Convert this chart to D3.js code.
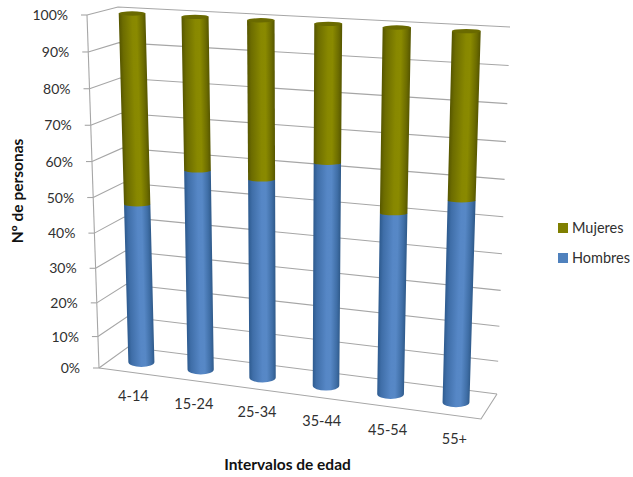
<!DOCTYPE html>
<html>
<head>
<meta charset="utf-8">
<script src="https://cdn.jsdelivr.net/npm/d3@7/dist/d3.min.js"></script>
<style>
html, body { margin: 0; padding: 0; background: #fff; }
svg { display: block; }
text { font-family: Lato, "Open Sans", sans-serif; fill: #303030; }
</style>
</head>
<body>
<svg id="chart" width="633" height="477"></svg>
<script>
// Age bands and the share of each sex per band (percent)
const categories = ["4-14", "15-24", "25-34", "35-44", "45-54", "55+"];
const hombres = [47, 58, 57, 63, 51, 56];
const mujeres = [53, 42, 43, 37, 49, 44];
const valueTicks = [0, 10, 20, 30, 40, 50, 60, 70, 80, 90, 100];
const legendItems = [["Mujeres", "#7f7f00"], ["Hombres", "#4f81bd"]];

const svg = d3.select("#chart");
const defs = svg.append("defs");

// Projected corners of the 3D plot box
const FL0 = [99, 368], FL1 = [87, 15];     // front-left edge, 0% and 100%
const BL0 = [128, 347], BL1 = [118, 7];    // back-left edge
const BR0 = [497, 394], BR1 = [510, 27];   // back-right edge
const FR0 = [481, 419];                    // front-right floor corner
// Plane halfway through the depth, on which the cylinder axes stand
const ML0 = [114.5, 358.5], MR0 = [489, 406.5], ML1 = [103.5, 12], MR1 = [501.4, 33];

// Perspective compresses the far end of each axis slightly
const sScale = d3.scalePow().exponent(1.05).domain([0, 100]).range([0, 1]);
const uScale = d3.scalePow().exponent(1.06).domain([0, categories.length]).range([0, 1]);
const mix = (a, b, t) => d3.interpolateNumberArray(a, b)(t);

function planePoint(u, s) {
  return mix(mix(ML0, MR0, u), mix(ML1, MR1, u), s);
}

// Cylinder width grows to the right and upward, towards the viewer
const widthBottom = d3.scaleLinear().domain([0, 1]).range([26, 27]);
const widthTop = d3.scaleLinear().domain([0, 1]).range([26.5, 29]);
const ryScale = d3.scaleLinear().domain([0, 0.5, 1]).range([5, 2, 2.2]);

function section(u, s) {
  const c = planePoint(u, s);
  const w = d3.interpolateNumber(widthBottom(u), widthTop(u))(s);
  return { cx: c[0], cy: c[1], rx: w / 2, ry: ryScale(s),
           l: [c[0] - w / 2, c[1]], r: [c[0] + w / 2, c[1]] };
}

// Gridlines and plot box
const grid = svg.append("g").attr("fill", "none").attr("stroke", "#a6a6a6").attr("stroke-width", 1.1);
valueTicks.forEach(v => {
  const s = sScale(v);
  const f = mix(FL0, FL1, s), bl = mix(BL0, BL1, s), br = mix(BR0, BR1, s);
  grid.append("polyline").attr("points", [f, bl, br].map(p => p.join(",")).join(" "));
  grid.append("line").attr("x1", f[0] - 6).attr("y1", f[1]).attr("x2", f[0]).attr("y2", f[1]);
});
grid.append("line").attr("x1", FL0[0]).attr("y1", FL0[1]).attr("x2", FL1[0]).attr("y2", FL1[1]);
grid.append("polyline").attr("points", [FL0, FR0, BR0].map(p => p.join(",")).join(" "));

// Shaded cylinder body, lit from slightly right of centre
function bodyGradient(id, a, b, stops) {
  const dx = b.cx - a.cx, dy = b.cy - a.cy, len = Math.hypot(dx, dy) || 1;
  const mx = (a.cx + b.cx) / 2, my = (a.cy + b.cy) / 2, half = (a.rx + b.rx) / 2;
  const nx = -dy / len, ny = dx / len;
  const g = defs.append("linearGradient").attr("id", id)
    .attr("gradientUnits", "userSpaceOnUse")
    .attr("x1", mx - nx * half * Math.sign(nx || 1)).attr("y1", my - ny * half * Math.sign(nx || 1))
    .attr("x2", mx + nx * half * Math.sign(nx || 1)).attr("y2", my + ny * half * Math.sign(nx || 1));
  stops.forEach(([o, c]) => g.append("stop").attr("offset", o).attr("stop-color", c));
  return `url(#${id})`;
}
const blueStops = [[0, "#2d5a8e"], [0.14, "#3f6ea8"], [0.5, "#5687c6"], [0.66, "#5788c6"], [0.88, "#3f6ea6"], [1, "#2f5a8a"]];
const oliveStops = [[0, "#565600"], [0.14, "#6c6c00"], [0.5, "#888800"], [0.66, "#8a8a00"], [0.88, "#6c6c00"], [1, "#565600"]];

const barsG = svg.append("g");
categories.forEach((cat, i) => {
  const u = uScale(i + 0.5);
  const a = section(u, sScale(0));
  const m = section(u, sScale(hombres[i]));
  const t = section(u, sScale(hombres[i] + mujeres[i]));

  // Lower block, rounded underneath
  barsG.append("path")
    .attr("d", `M${a.l}L${m.l}L${m.r}L${a.r}A${a.rx},${a.ry} 0 0 1 ${a.l}Z`)
    .attr("fill", bodyGradient(`h${i}`, a, m, blueStops));
  // Upper block, its rounded base overlapping the lower one
  barsG.append("path")
    .attr("d", `M${m.l}L${t.l}L${t.r}L${m.r}A${m.rx},${m.ry} 0 0 1 ${m.l}Z`)
    .attr("fill", bodyGradient(`m${i}`, m, t, oliveStops));
  // Lid
  barsG.append("ellipse")
    .attr("cx", t.cx).attr("cy", t.cy).attr("rx", t.rx).attr("ry", t.ry)
    .attr("fill", "#6a6a00");
});

// Value axis labels
svg.append("g").selectAll("text").data(valueTicks).join("text")
  .attr("x", d => mix(FL0, FL1, sScale(d))[0] - 19)
  .attr("y", d => mix(FL0, FL1, sScale(d))[1] + 5)
  .attr("text-anchor", "end").attr("font-size", 14)
  .text(d => d + "%");

// Category labels follow the front edge of the floor
svg.append("g").selectAll("text").data(categories).join("text")
  .attr("x", (d, i) => mix(FL0, FR0, uScale(i + 0.5))[0] + 7)
  .attr("y", (d, i) => mix(FL0, FR0, uScale(i + 0.5))[1] + 29)
  .attr("text-anchor", "middle").attr("font-size", 14.5)
  .text(d => d);

// Axis titles
svg.append("text").attr("x", 287.5).attr("y", 470)
  .attr("text-anchor", "middle").attr("font-size", 15.5).attr("font-weight", 700)
  .style("fill", "#111").text("Intervalos de edad");
svg.append("text").attr("transform", "translate(23,191) rotate(-90)")
  .attr("text-anchor", "middle").attr("font-size", 15.5).attr("font-weight", 700)
  .style("fill", "#111").text("Nº de personas");

// Legend
const legendY = d3.scalePoint().domain(legendItems.map(d => d[0])).range([223, 253]);
const legend = svg.append("g").selectAll("g").data(legendItems).join("g")
  .attr("transform", d => `translate(558,${legendY(d[0])})`);
legend.append("rect").attr("width", 10).attr("height", 10).attr("fill", d => d[1]);
legend.append("text").attr("x", 14).attr("y", 10).attr("font-size", 14.5).text(d => d[0]);
</script>
</body>
</html>
